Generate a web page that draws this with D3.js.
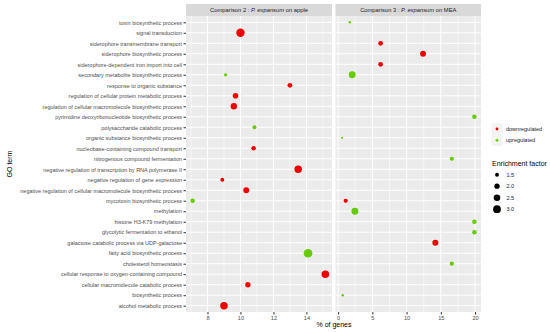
<!DOCTYPE html>
<html>
<head>
<meta charset="utf-8">
<script src="https://cdn.jsdelivr.net/npm/d3@7"></script>
<style>
  body { margin: 0; background: #fff; }
  svg { font-family: "Liberation Sans", Arial, sans-serif; }
</style>
</head>
<body>
<svg id="chart" width="550" height="332" viewBox="0 0 550 332"></svg>
<script>
// GO terms, top to bottom
const goTerms = [
    "toxin biosynthetic process",
    "signal transduction",
    "siderophore transmembrane transport",
    "siderophore biosynthetic process",
    "siderophore-dependent iron import into cell",
    "secondary metabolite biosynthetic process",
    "response to organic substance",
    "regulation of cellular protein metabolic process",
    "regulation of cellular macromolecule biosynthetic process",
    "pyrimidine deoxyribonucleotide biosynthetic process",
    "polysaccharide catabolic process",
    "organic substance biosynthetic process",
    "nucleobase-containing compound transport",
    "nitrogenous compound fermentation",
    "negative regulation of transcription by RNA polymerase II",
    "negative regulation of gene expression",
    "negative regulation of cellular macromolecule biosynthetic process",
    "mycotoxin biosynthetic process",
    "methylation",
    "histone H3-K79 methylation",
    "glycolytic fermentation to ethanol",
    "galactose catabolic process via UDP-galactose",
    "fatty acid biosynthetic process",
    "cholesterol homeostasis",
    "cellular response to oxygen-containing compound",
    "cellular macromolecule catabolic process",
    "biosynthetic process",
    "alcohol metabolic process"
];

// [term, % of genes, enrichment factor, regulation]
const appleData = [
    ["signal transduction", 10.0, 3.3, "down"],
    ["secondary metabolite biosynthetic process", 9.1, 1.3, "up"],
    ["response to organic substance", 13.0, 1.8, "down"],
    ["regulation of cellular protein metabolic process", 9.7, 2.1, "down"],
    ["regulation of cellular macromolecule biosynthetic process", 9.6, 2.4, "down"],
    ["polysaccharide catabolic process", 10.85, 1.5, "up"],
    ["nucleobase-containing compound transport", 10.8, 1.7, "down"],
    ["negative regulation of transcription by RNA polymerase II", 13.5, 2.9, "down"],
    ["negative regulation of gene expression", 8.9, 1.5, "down"],
    ["negative regulation of cellular macromolecule biosynthetic process", 10.35, 2.2, "down"],
    ["mycotoxin biosynthetic process", 7.1, 1.7, "up"],
    ["fatty acid biosynthetic process", 14.1, 3.4, "up"],
    ["cellular response to oxygen-containing compound", 15.15, 2.9, "down"],
    ["cellular macromolecule catabolic process", 10.45, 2.0, "down"],
    ["alcohol metabolic process", 9.0, 2.9, "down"]
];

const meaData = [
    ["toxin biosynthetic process", 1.7, 1.05, "up"],
    ["siderophore transmembrane transport", 6.2, 1.8, "down"],
    ["siderophore biosynthetic process", 12.4, 2.2, "down"],
    ["siderophore-dependent iron import into cell", 6.2, 1.8, "down"],
    ["secondary metabolite biosynthetic process", 2.05, 2.6, "up"],
    ["pyrimidine deoxyribonucleotide biosynthetic process", 19.9, 1.7, "up"],
    ["organic substance biosynthetic process", 0.58, 1.0, "up"],
    ["nitrogenous compound fermentation", 16.6, 1.6, "up"],
    ["mycotoxin biosynthetic process", 1.1, 1.6, "down"],
    ["methylation", 2.45, 2.6, "up"],
    ["histone H3-K79 methylation", 19.9, 1.7, "up"],
    ["glycolytic fermentation to ethanol", 19.9, 1.7, "up"],
    ["galactose catabolic process via UDP-galactose", 14.2, 2.3, "down"],
    ["cholesterol homeostasis", 16.6, 1.6, "up"],
    ["biosynthetic process", 0.67, 1.05, "up"]
];

const panels = [
    { label: "Comparison 2 : ", italic: "P. expansum", rest: " on apple", data: appleData, ticks: [8, 10, 12, 14] },
    { label: "Comparison 3 : ", italic: "P. expansum", rest: " on MEA", data: meaData, ticks: [0, 5, 10, 15, 20] }
];

const regLabels = ["downregulated", "upregulated"];
const regKeys = ["down", "up"];
const sizeBreaks = [1.5, 2.0, 2.5, 3.0];

const svg = d3.select("#chart");

const color = d3.scaleOrdinal().domain(regKeys).range(["#f20000", "#66cc00"]);
const size = d3.scaleSqrt().domain([1.0, 3.4]).range([1.1, 4.3]);

const plotTop = 16, plotBottom = 312;
const panelX = [[186, 332], [335.5, 481]];

const y = d3.scalePoint().domain(goTerms).range([plotTop, plotBottom]).padding(0.6);

panels.forEach((p, i) => {
    const [x0, x1] = panelX[i];
    const ext = d3.extent(p.data, d => d[1]);
    const pad = (ext[1] - ext[0]) * 0.05;
    const x = d3.scaleLinear().domain([ext[0] - pad, ext[1] + pad]).range([x0, x1]);

    const g = svg.append("g");
    g.append("rect").attr("x", x0).attr("y", plotTop).attr("width", x1 - x0).attr("height", plotBottom - plotTop)
        .attr("fill", "#ebebeb");

    // minor grid
    const minor = p.ticks.slice(0, -1).map((t, k) => (t + p.ticks[k + 1]) / 2);
    const step = p.ticks[1] - p.ticks[0];
    minor.unshift(p.ticks[0] - step / 2);
    minor.push(p.ticks[p.ticks.length - 1] + step / 2);
    g.selectAll(".minor").data(minor.filter(v => x(v) > x0 && x(v) < x1)).enter().append("line")
        .attr("x1", d => x(d)).attr("x2", d => x(d)).attr("y1", plotTop).attr("y2", plotBottom)
        .attr("stroke", "#fff").attr("stroke-width", 0.5);

    g.selectAll(".hgrid").data(goTerms).enter().append("line")
        .attr("x1", x0).attr("x2", x1).attr("y1", d => y(d)).attr("y2", d => y(d))
        .attr("stroke", "#fff").attr("stroke-width", 1);
    g.selectAll(".vgrid").data(p.ticks).enter().append("line")
        .attr("x1", d => x(d)).attr("x2", d => x(d)).attr("y1", plotTop).attr("y2", plotBottom)
        .attr("stroke", "#fff").attr("stroke-width", 1);

    // x axis
    const xAxis = g.append("g").attr("transform", `translate(0,${plotBottom})`)
        .call(d3.axisBottom(x).tickValues(p.ticks).tickSize(2.5).tickPadding(1.5));
    xAxis.select(".domain").remove();
    xAxis.selectAll("line").attr("stroke", "#333");
    xAxis.selectAll("text").attr("fill", "#4d4d4d").style("font-size", "5.6px").style("font-family", "Liberation Sans, Arial, sans-serif");

    // strip
    g.append("rect").attr("x", x0).attr("y", 4).attr("width", x1 - x0).attr("height", plotTop - 4)
        .attr("fill", "#d9d9d9");
    const st = g.append("text").attr("x", (x0 + x1) / 2).attr("y", 12.2)
        .attr("text-anchor", "middle").attr("fill", "#1a1a1a").style("font-size", "5.8px");
    st.append("tspan").text(p.label);
    st.append("tspan").attr("font-style", "italic").text(p.italic);
    st.append("tspan").text(p.rest);

    // points
    g.selectAll(".pt").data(p.data).enter().append("circle")
        .attr("cx", d => x(d[1])).attr("cy", d => y(d[0]))
        .attr("r", d => size(d[2]))
        .attr("fill", d => color(d[3]));
});

// y axis
const yAxis = svg.append("g").attr("transform", `translate(${panelX[0][0]},0)`)
    .call(d3.axisLeft(y).tickSize(2.5).tickPadding(1.5));
yAxis.select(".domain").remove();
yAxis.selectAll("line").attr("stroke", "#333");
yAxis.selectAll("text").attr("fill", "#4d4d4d").style("font-size", "5.5px").style("font-family", "Liberation Sans, Arial, sans-serif");

// axis titles
svg.append("text").attr("x", 334).attr("y", 327).attr("text-anchor", "middle")
    .style("font-size", "7px").text("% of genes");
svg.append("text").attr("transform", `translate(12,${(plotTop + plotBottom) / 2}) rotate(-90)`)
    .attr("text-anchor", "middle").style("font-size", "7px").text("GO term");

// colour legend
const lg = svg.append("g");
regKeys.forEach((k, i) => {
    const cy = 129 + i * 11.3;
    lg.append("rect").attr("x", 491.5).attr("y", cy - 5.6).attr("width", 11.2).attr("height", 11.2).attr("fill", "#f2f2f2");
    lg.append("circle").attr("cx", 497).attr("cy", cy).attr("r", 1.4).attr("fill", color(k));
    lg.append("text").attr("x", 506).attr("y", cy + 1.9).style("font-size", "5.5px").attr("fill", "#1a1a1a").text(regLabels[i]);
});

// size legend
svg.append("text").attr("x", 492).attr("y", 166).style("font-size", "7px").text("Enrichment factor");
sizeBreaks.forEach((b, i) => {
    const cy = 174.7 + i * 11.5;
    svg.append("circle").attr("cx", 497).attr("cy", cy).attr("r", size(b)).attr("fill", "#000");
    svg.append("text").attr("x", 506.5).attr("y", cy + 1.9).style("font-size", "5.5px").attr("fill", "#1a1a1a").text(d3.format(".1f")(b));
});
</script>
</body>
</html>
